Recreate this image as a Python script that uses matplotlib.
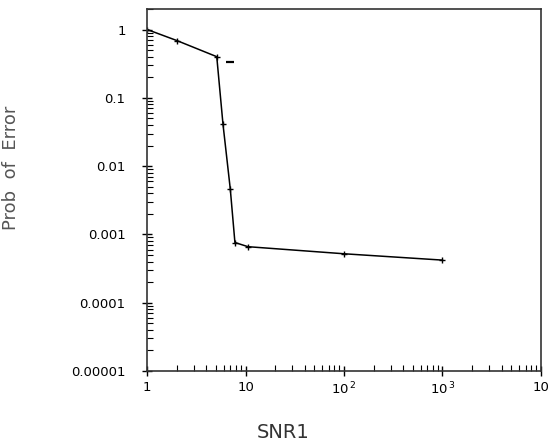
import numpy as np
import matplotlib.pyplot as plt
from matplotlib.ticker import FixedLocator, LogLocator, NullFormatter

# values
snr = [1.0, 2.0, 5.1, 5.9, 7.0, 7.8, 10.6, 100.0, 1000.0]
perr = [1.0, 0.69, 0.40, 0.041, 0.0046, 0.00076, 0.00066, 0.00052, 0.00042]

# lone marker next to the knee
stray_x = [6.9]
stray_y = [0.34]

yticks = [1, 0.1, 0.01, 0.001, 0.0001, 0.00001]
ytick_labels = ['1', '0.1', '0.01', '0.001', '0.0001', '0.00001']
xticks = [1, 10, 100, 1000, 10000]
xtick_labels = ['1', '10', '10$^{\\,2}$', '10$^{\\,3}$', '10']

fig = plt.figure(figsize=(5.49, 4.48), dpi=100)
ax = fig.add_axes([0.268, 0.172, 0.717, 0.808])

ax.plot(snr, perr, color='black', lw=1.1, marker='+', ms=4, mew=1.0)
ax.plot(stray_x, stray_y, color='black', marker='_', ms=6, mew=1.6, ls='none')

ax.set_xscale('log')
ax.set_yscale('log')
ax.set_xlim(1, 10000)
ax.set_ylim(1e-5, 2)

ax.yaxis.set_major_locator(FixedLocator(yticks))
ax.set_yticklabels(ytick_labels)
ax.xaxis.set_major_locator(FixedLocator(xticks))
ax.set_xticklabels(xtick_labels)
ax.xaxis.set_minor_locator(LogLocator(base=10, subs=np.arange(2, 10)))
ax.yaxis.set_minor_locator(LogLocator(base=10, subs=np.arange(2, 10)))
ax.xaxis.set_minor_formatter(NullFormatter())
ax.yaxis.set_minor_formatter(NullFormatter())

ax.tick_params(which='major', direction='inout', length=7, width=1.0,
               labelsize=9.5, colors='black', top=False, right=False)
ax.tick_params(axis='y', which='major', pad=12)
ax.tick_params(which='minor', direction='in', length=4, width=0.8,
               top=False, right=False)

for s in ax.spines.values():
    s.set_linewidth(1.2)
    s.set_color('#333333')

ax.set_ylabel('Prob  of  Error', fontsize=13, color='#555555')
ax.yaxis.set_label_coords(-0.322, 0.56)
ax.set_xlabel('SNR1', fontsize=14, color='#333333')
ax.xaxis.set_label_coords(0.345, -0.145)

fig.savefig('out.png', dpi=100)
